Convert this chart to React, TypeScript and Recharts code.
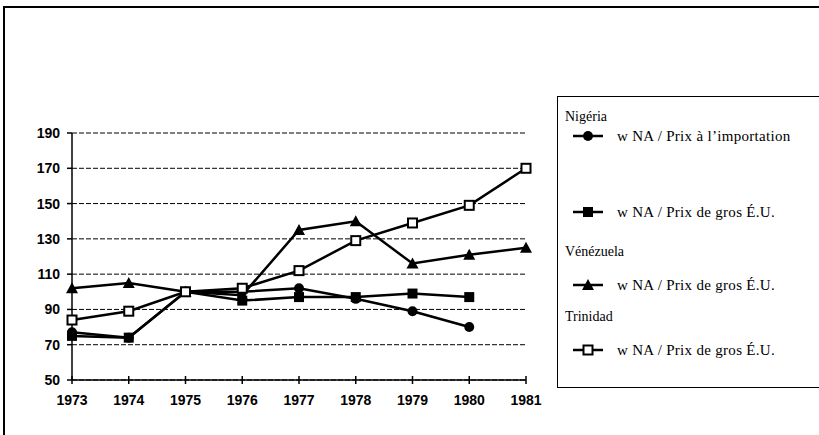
import React from 'react';
import { LineChart, Line, XAxis, YAxis, CartesianGrid } from 'recharts';

// années (axe X)
const years = ['1973', '1974', '1975', '1976', '1977', '1978', '1979', '1980', '1981'];
// Nigéria : w NA / Prix à l'importation
const nigeriaImport = [77, 74, 100, 100, 102, 96, 89, 80, null];
// Nigéria : w NA / Prix de gros É.U.
const nigeriaGros = [75, 74, 100, 95, 97, 97, 99, 97, null];
// Vénézuela : w NA / Prix de gros É.U.
const venezuelaGros = [102, 105, 100, 98, 135, 140, 116, 121, 125];
// Trinidad : w NA / Prix de gros É.U.
const trinidadGros = [84, 89, 100, 102, 112, 129, 139, 149, 170];
const yTicks = [50, 70, 90, 110, 130, 150, 170, 190];

const data = years.map((year, i) => ({
  year,
  nigImp: nigeriaImport[i],
  nigGros: nigeriaGros[i],
  ven: venezuelaGros[i],
  tri: trinidadGros[i],
}));

type Shape = 'circle' | 'square' | 'triangle' | 'open';

const series: { key: string; label: string; header?: string; headerTop?: number; shape: Shape; top: number }[] = [
  { key: 'nigImp', label: 'w NA / Prix à l\u2019importation', header: 'Nigéria', headerTop: 20, shape: 'circle', top: 39 },
  { key: 'nigGros', label: 'w NA / Prix de gros É.U.', shape: 'square', top: 115 },
  { key: 'ven', label: 'w NA / Prix de gros É.U.', header: 'Vénézuela', headerTop: 155, shape: 'triangle', top: 188 },
  { key: 'tri', label: 'w NA / Prix de gros É.U.', header: 'Trinidad', headerTop: 220, shape: 'open', top: 253 },
];

const Marker = ({ shape, cx, cy }: { shape: Shape; cx: number; cy: number }) => {
  if (shape === 'circle') return <circle cx={cx} cy={cy} r={5} fill="#000" />;
  if (shape === 'square') return <rect x={cx - 5} y={cy - 5} width={10} height={10} fill="#000" />;
  if (shape === 'triangle')
    return <polygon points={`${cx},${cy - 6} ${cx + 6},${cy + 5} ${cx - 6},${cy + 5}`} fill="#000" />;
  return <rect x={cx - 4.5} y={cy - 4.5} width={9} height={9} fill="#fff" stroke="#000" strokeWidth={2} />;
};

const makeDot = (shape: Shape) => (p: any) => {
  if (p.cx == null || p.cy == null || p.value == null) return <g key={p.index} />;
  return <Marker key={p.index} shape={shape} cx={p.cx} cy={p.cy} />;
};

const XTick = ({ x, y, payload }: any) => (
  <g>
    <line x1={x} x2={x} y1={y - 4} y2={y + 4} stroke="#000" strokeWidth={1.5} />
    <text
      x={x}
      y={y + 15}
      dy="0.71em"
      textAnchor="middle"
      fontFamily="Liberation Sans, Arial, sans-serif"
      fontWeight="bold"
      fontSize={14}
      fill="#000"
    >
      {payload.value}
    </text>
  </g>
);

const Legende = () => (
  <div
    style={{
      position: 'absolute',
      left: 557,
      top: 96,
      width: 280,
      height: 290,
      border: '1.5px solid #000',
      fontFamily: '"Liberation Serif", "Times New Roman", serif',
      color: '#000',
    }}
  >
    {series.map((s) => (
      <React.Fragment key={s.key}>
        {s.header && (
          <div style={{ position: 'absolute', left: 7, top: (s.headerTop ?? 0) - 8, fontSize: 14, lineHeight: '16px' }}>
            {s.header}
          </div>
        )}
        <div style={{ position: 'absolute', left: 14, top: s.top - 9, height: 18, display: 'flex', alignItems: 'center' }}>
          <svg width={32} height={18}>
            <line x1={1} x2={31} y1={9} y2={9} stroke="#000" strokeWidth={2.5} />
            <Marker shape={s.shape} cx={16} cy={9} />
          </svg>
          <span style={{ marginLeft: 13, fontSize: 15, letterSpacing: 0.3, whiteSpace: 'nowrap' }}>{s.label}</span>
        </div>
      </React.Fragment>
    ))}
  </div>
);

export default function App() {
  return (
    <div style={{ position: 'absolute', left: 0, top: 0, width: 819, height: 435, overflow: 'hidden', background: '#fff' }}>
      <div style={{ position: 'absolute', left: 3, top: 6, width: 830, height: 450, border: '2px solid #000' }} />
      <div style={{ position: 'absolute', left: 0, top: 0 }}>
        <LineChart width={819} height={435} data={data} margin={{ top: 133, right: 293, bottom: 25, left: 12 }}>
          <CartesianGrid vertical={false} stroke="#000" strokeDasharray="5 2" strokeWidth={1} />
          <XAxis
            dataKey="year"
            interval={0}
            tickSize={0}
            tickMargin={0}
            tickLine={false}
            axisLine={{ stroke: '#000', strokeWidth: 1.5 }}
            tick={<XTick />}
            height={30}
          />
          <YAxis
            domain={[50, 190]}
            ticks={yTicks}
            width={60}
            tickSize={5}
            tickMargin={7}
            interval={0}
            axisLine={{ stroke: '#000', strokeWidth: 1.5 }}
            tickLine={{ stroke: '#000', strokeWidth: 1.5 }}
            tick={{ fill: '#000', fontSize: 14, fontWeight: 'bold', fontFamily: 'Liberation Sans, Arial, sans-serif' }}
          />
          {series.map((s) => (
            <Line
              key={s.key}
              type="linear"
              dataKey={s.key}
              stroke="#000"
              strokeWidth={2.5}
              dot={makeDot(s.shape)}
              activeDot={false}
              isAnimationActive={false}
            />
          ))}
        </LineChart>
      </div>
      <Legende />
    </div>
  );
}
